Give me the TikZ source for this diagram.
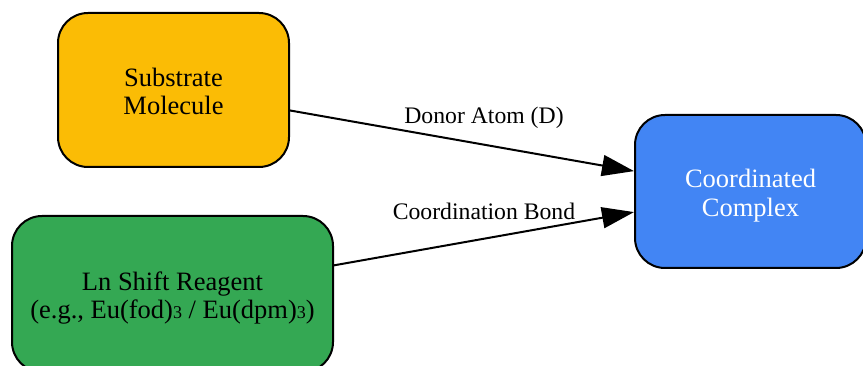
\documentclass[tikz,border=0pt]{standalone}
\usepackage{fontspec}
\setmainfont{Liberation Serif}
\usetikzlibrary{arrows.meta}
\definecolor{cyel}{HTML}{FBBC05}
\definecolor{cgreen}{HTML}{34A853}
\definecolor{cblue}{HTML}{4285F4}
\newcommand{\lowthree}{{\fontsize{18}{18}\selectfont 3}}
\newcommand{\twolines}[2]{\begin{tabular}{@{}c@{}}\rule{0pt}{29.4pt}#1\\#2\end{tabular}}
\begin{document}
\begin{tikzpicture}[x=1pt,y=1pt,
  box/.style={draw=black, line width=2pt, rounded corners=30pt,
    font=\fontsize{26.5}{28.3}\selectfont, inner sep=0pt},
  lbl/.style={font=\fontsize{23.7}{26}\selectfont, inner sep=0pt},
  conn/.style={line width=2pt, -{Triangle[length=32pt,width=21pt]}}]
\useasboundingbox (0,0) rectangle (863,-366);
\clip (0,0) rectangle (863,-366);
\node[box, fill=cyel, minimum width=231pt, minimum height=154pt] (sub) at (173.5,-90) {\twolines{Substrate}{Molecule}};
\node[box, fill=cgreen, minimum width=321pt, minimum height=156pt] (ln) at (172.5,-294) {\twolines{Ln Shift Reagent}{(e.g., Eu(fod)\lowthree{} / Eu(dpm)\lowthree)}};
\node[box, fill=cblue, text=white, minimum width=231pt, minimum height=153pt] (cc) at (750.5,-191.5) {\twolines{Coordinated}{Complex}};
\draw[conn] (sub) -- (cc);
\draw[conn] (ln) -- (cc);
\node[lbl] (l1) at (484,-118) {Donor Atom (D)};
\node[lbl] (l2) at (484,-211) {Coordination Bond};
\end{tikzpicture}
\end{document}
